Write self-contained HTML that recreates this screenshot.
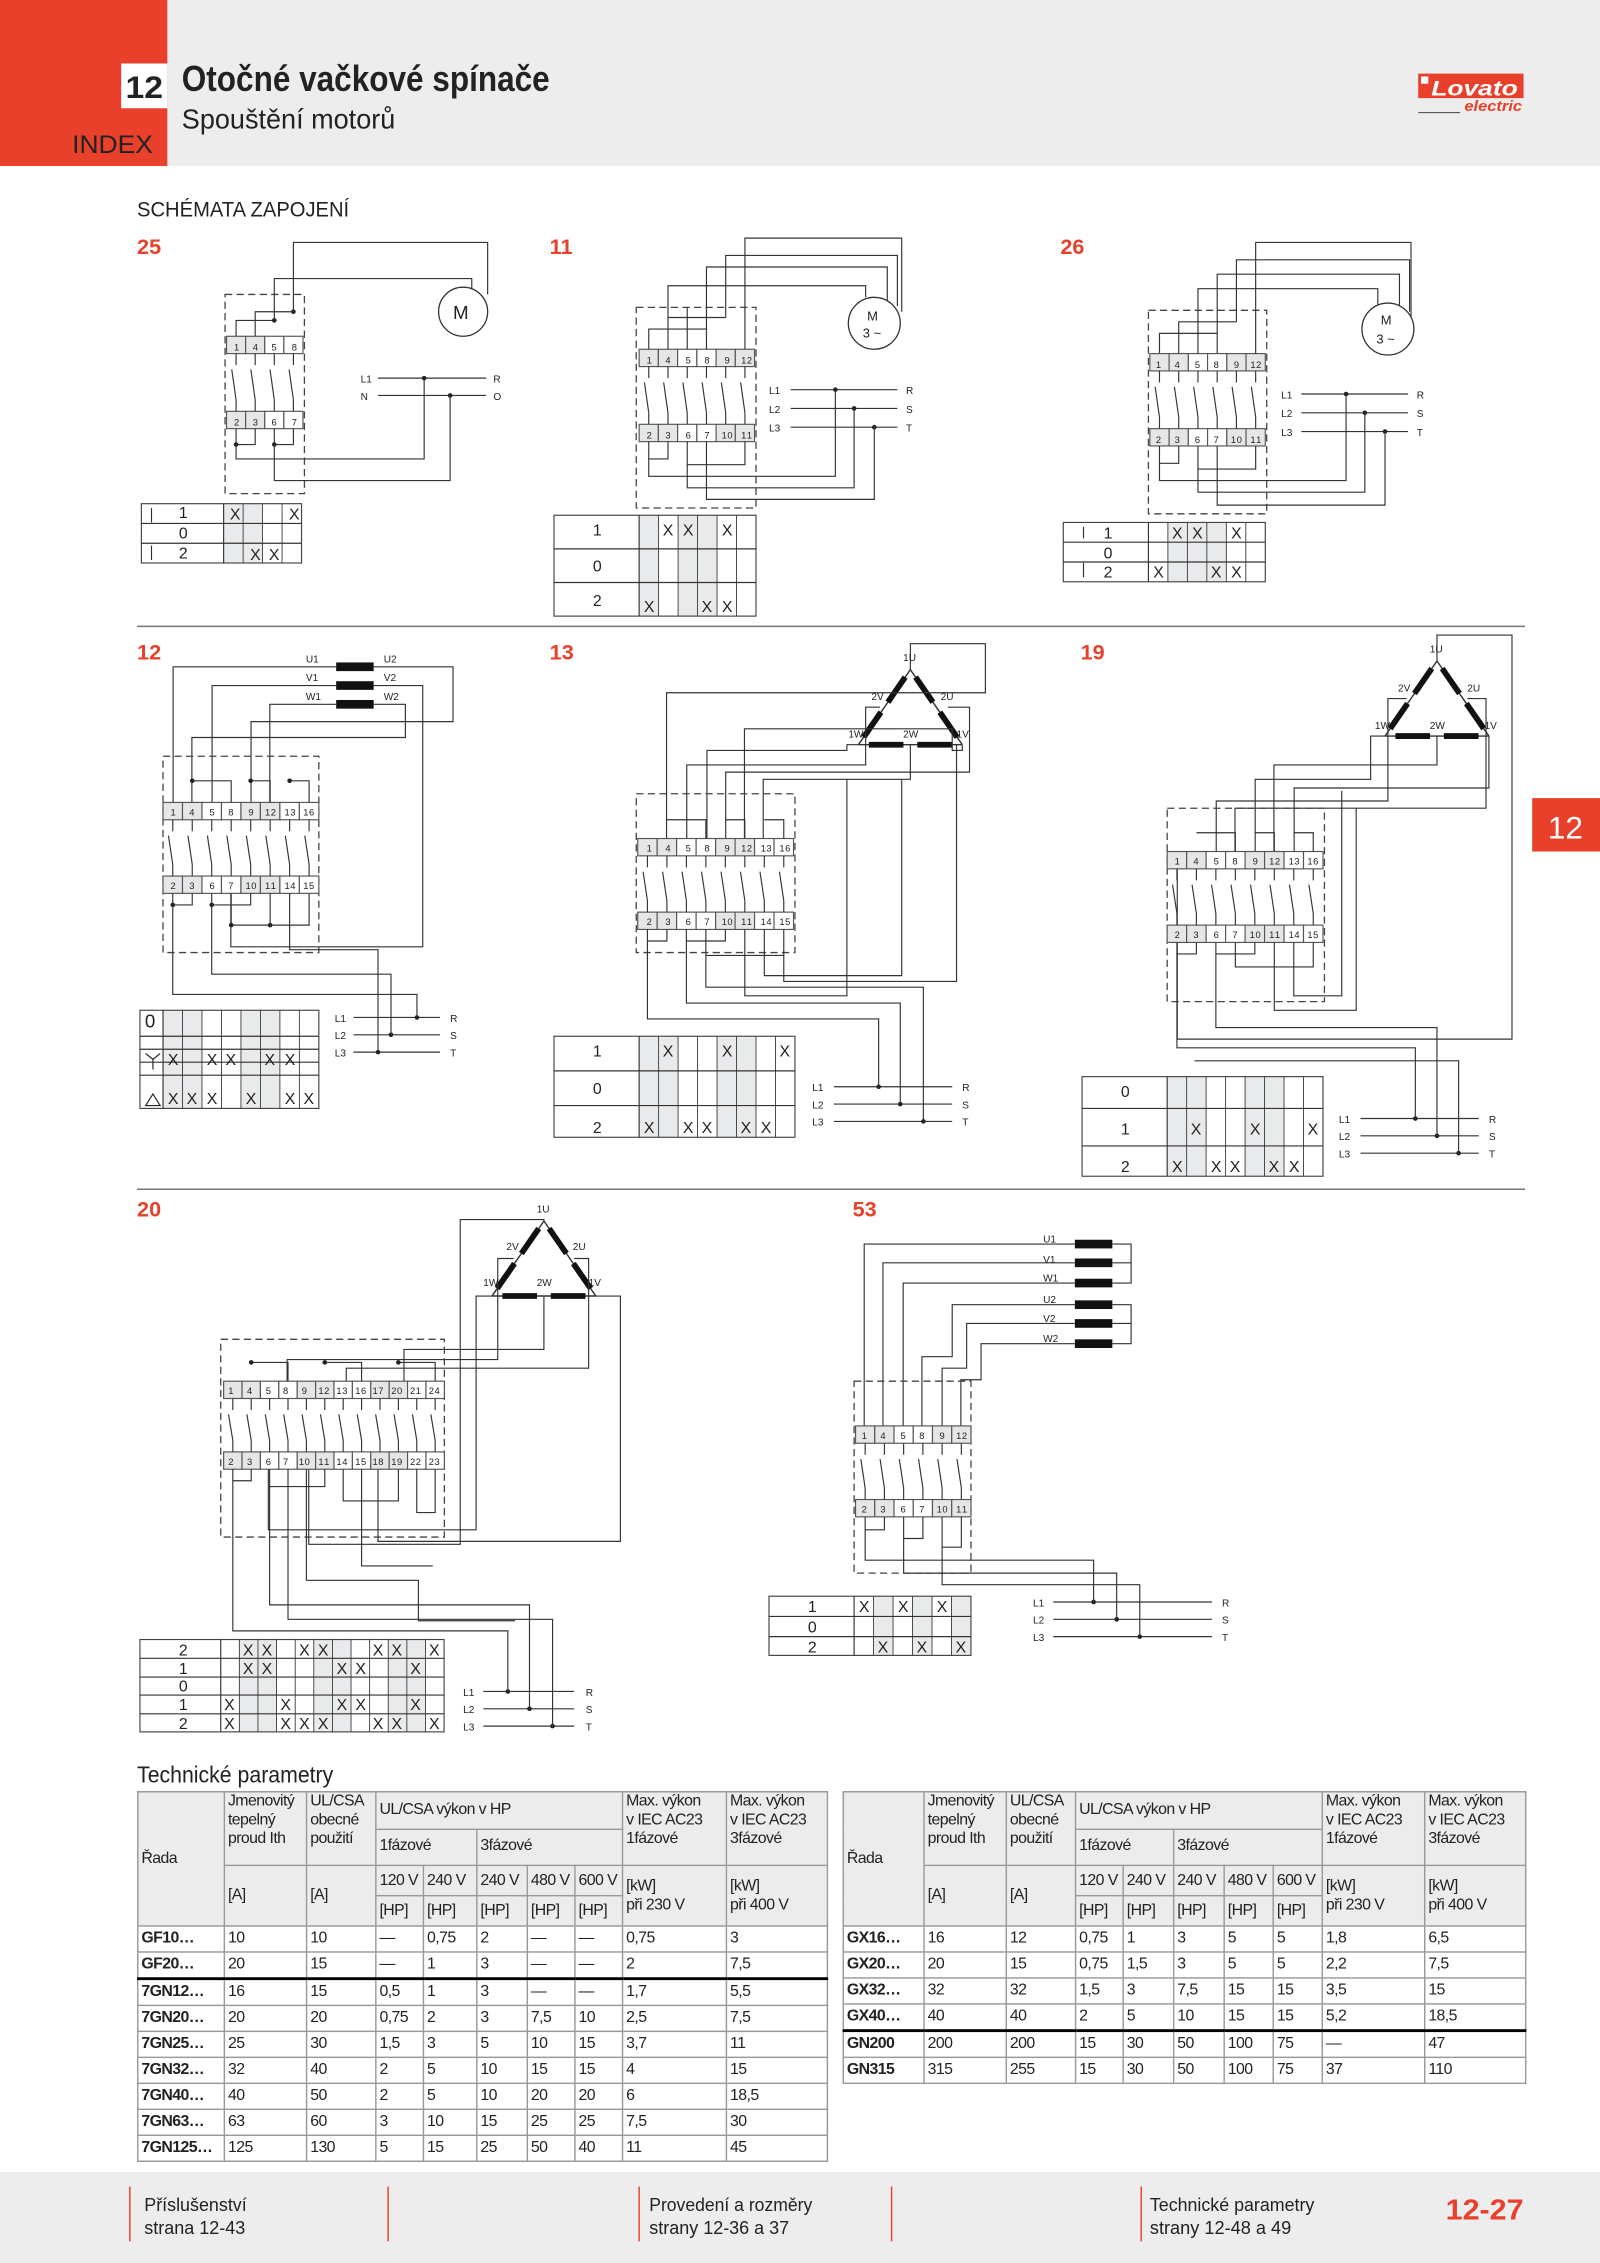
<!DOCTYPE html>
<html><head><meta charset="utf-8">
<style>
html,body{margin:0;padding:0;background:#fff;}
body{width:1600px;height:2263px;overflow:hidden;position:relative;}
#p{position:absolute;left:0;top:0;width:1109px;height:1568px;transform:scale(1.44274,1.44324);transform-origin:0 0;font-family:"Liberation Sans Narrow","Liberation Sans",sans-serif;color:#222;}
svg{position:absolute;left:0;top:0;}
svg text{font-family:"Liberation Sans Narrow","Liberation Sans",sans-serif;fill:#222;}
.t{font-size:6.5px;text-anchor:middle}
.x{font-size:11px;text-anchor:middle}
.r{font-size:10px;text-anchor:start}
.red{fill:#e8402a;font-weight:bold;font-size:15px}
table{position:absolute;border-collapse:collapse;table-layout:fixed;font-size:11px;letter-spacing:-0.4px;font-family:"Liberation Sans Narrow","Liberation Sans",sans-serif;}
td{border:1px solid #999;padding:0 2px;vertical-align:top;overflow:hidden;white-space:nowrap;line-height:13px;}
tr.h td{background:#ececec;}
tr.d td{height:17px;vertical-align:middle;}
td.b{font-weight:bold;}
tr.k td{border-bottom:2px solid #000;}
</style></head><body><div id="p">
<svg width="1109" height="1568" viewBox="0 0 1109 1568">
<rect x="0" y="0" width="1109" height="115" fill="#ededed"/>
<rect x="0" y="0" width="116" height="115" fill="#e8402a"/>
<rect x="84" y="44" width="32" height="31" fill="#fff"/>
<text x="100" y="68" style="font-size:22px;font-weight:bold;text-anchor:middle;font-family:'Liberation Sans'" textLength="26" lengthAdjust="spacingAndGlyphs">12</text>
<text x="50" y="106" style="font-size:17px;font-family:'Liberation Sans'" textLength="56" lengthAdjust="spacingAndGlyphs">INDEX</text>
<text x="126" y="63" style="font-size:25px;font-weight:bold" textLength="255" lengthAdjust="spacingAndGlyphs">Otočné vačkové spínače</text>
<text x="126" y="89" style="font-size:19px" textLength="148" lengthAdjust="spacingAndGlyphs">Spouštění motorů</text>
<rect x="983" y="51" width="73" height="17" fill="#e8402a"/>
<rect x="985" y="53" width="5" height="5" fill="#fff"/>
<text x="992" y="66" style="font-size:15px;font-weight:bold;font-style:italic;fill:#fff;font-family:'Liberation Sans'" textLength="60" lengthAdjust="spacingAndGlyphs">Lovato</text>
<line x1="983" y1="78" x2="1012" y2="78" stroke="#444" stroke-width="0.7"/>
<text x="1055" y="77" style="font-size:10px;font-weight:bold;font-style:italic;fill:#e8402a;text-anchor:end;font-family:'Liberation Sans'" textLength="40" lengthAdjust="spacingAndGlyphs">electric</text>
<text x="95" y="150" style="font-size:15px" textLength="147" lengthAdjust="spacingAndGlyphs">SCHÉMATA ZAPOJENÍ</text>
<text x="95" y="176" class="red">25</text>
<text x="381" y="176" class="red">11</text>
<text x="735" y="176" class="red">26</text>
<text x="95" y="457" class="red">12</text>
<text x="381" y="457" class="red">13</text>
<text x="749" y="457" class="red">19</text>
<text x="95" y="843" class="red">20</text>
<text x="591" y="843" class="red">53</text>
<line x1="95" y1="434" x2="1057" y2="434" stroke="#777" stroke-width="1"/>
<line x1="95" y1="824" x2="1057" y2="824" stroke="#777" stroke-width="1"/>
<rect x="1062" y="553" width="47" height="37" fill="#e8402a"/>
<text x="1085" y="581" style="font-size:22px;fill:#fff;text-anchor:middle;font-family:'Liberation Sans'">12</text>
<text x="95" y="1235" style="font-size:16px" textLength="136" lengthAdjust="spacingAndGlyphs">Technické parametry</text>
<rect x="0" y="1505" width="1109" height="63" fill="#ededed"/>
<g stroke="#e8402a" stroke-width="1"><line x1="90" y1="1515" x2="90" y2="1553"/><line x1="269" y1="1515" x2="269" y2="1553"/><line x1="443" y1="1515" x2="443" y2="1553"/><line x1="618" y1="1515" x2="618" y2="1553"/><line x1="791" y1="1515" x2="791" y2="1553"/></g>
<text x="100" y="1532" style="font-size:13px" textLength="71" lengthAdjust="spacingAndGlyphs">Příslušenství</text><text x="100" y="1548" style="font-size:13px" textLength="70" lengthAdjust="spacingAndGlyphs">strana 12-43</text>
<text x="450" y="1532" style="font-size:13px" textLength="113" lengthAdjust="spacingAndGlyphs">Provedení a rozměry</text><text x="450" y="1548" style="font-size:13px" textLength="97" lengthAdjust="spacingAndGlyphs">strany 12-36 a 37</text>
<text x="797" y="1532" style="font-size:13px" textLength="114" lengthAdjust="spacingAndGlyphs">Technické parametry</text><text x="797" y="1548" style="font-size:13px" textLength="98" lengthAdjust="spacingAndGlyphs">strany 12-48 a 49</text>
<text x="1002" y="1538" style="font-size:20px;font-weight:bold;fill:#e8402a" textLength="54" lengthAdjust="spacingAndGlyphs">12-27</text>

<g id="art"></g>

<g class="r" style="font-size:7px">
<text x="314" y="221" style="font-size:13px">M</text>
<text x="601" y="222" style="font-size:9px">M</text><text x="598" y="234" style="font-size:9px">3 ~</text>
<text x="957" y="225" style="font-size:9px">M</text><text x="954" y="238" style="font-size:9px">3 ~</text>
<text x="250" y="265">L1</text><text x="250" y="277">N</text><text x="342" y="265">R</text><text x="342" y="277">O</text>
<text x="533" y="273">L1</text><text x="533" y="286">L2</text><text x="533" y="299">L3</text><text x="628" y="273">R</text><text x="628" y="286">S</text><text x="628" y="299">T</text>
<text x="888" y="276">L1</text><text x="888" y="289">L2</text><text x="888" y="302">L3</text><text x="982" y="276">R</text><text x="982" y="289">S</text><text x="982" y="302">T</text>
<text x="212" y="459">U1</text><text x="212" y="472">V1</text><text x="212" y="485">W1</text><text x="266" y="459">U2</text><text x="266" y="472">V2</text><text x="266" y="485">W2</text>
<text x="232" y="708">L1</text><text x="232" y="720">L2</text><text x="232" y="732">L3</text><text x="312" y="708">R</text><text x="312" y="720">S</text><text x="312" y="732">T</text>
<text x="563" y="756">L1</text><text x="563" y="768">L2</text><text x="563" y="780">L3</text><text x="667" y="756">R</text><text x="667" y="768">S</text><text x="667" y="780">T</text>
<text x="928" y="778">L1</text><text x="928" y="790">L2</text><text x="928" y="802">L3</text><text x="1032" y="778">R</text><text x="1032" y="790">S</text><text x="1032" y="802">T</text>
<text x="321" y="1175">L1</text><text x="321" y="1187">L2</text><text x="321" y="1199">L3</text><text x="406" y="1175">R</text><text x="406" y="1187">S</text><text x="406" y="1199">T</text>
<text x="716" y="1113">L1</text><text x="716" y="1125">L2</text><text x="716" y="1137">L3</text><text x="847" y="1113">R</text><text x="847" y="1125">S</text><text x="847" y="1137">T</text>
<text x="723" y="861">U1</text><text x="723" y="875">V1</text><text x="723" y="888">W1</text><text x="723" y="903">U2</text><text x="723" y="916">V2</text><text x="723" y="930">W2</text>
<text x="626" y="458">1U</text><text x="604" y="485">2V</text><text x="652" y="485">2U</text><text x="588" y="511">1W</text><text x="626" y="511">2W</text><text x="663" y="511">1V</text>
<text x="991" y="452">1U</text><text x="969" y="479">2V</text><text x="1017" y="479">2U</text><text x="953" y="505">1W</text><text x="991" y="505">2W</text><text x="1029" y="505">1V</text>
<text x="372" y="840">1U</text><text x="351" y="866">2V</text><text x="397" y="866">2U</text><text x="335" y="891">1W</text><text x="372" y="891">2W</text><text x="408" y="891">1V</text>
</g>

<g class="t">
<text x="164 177 190 204" y="243">1458</text><text x="164 177 190 204" y="295">2367</text>
<text x="450 463 477 490 504 515.5 519.5" y="252">1458912</text><text x="450 463 477 490 502 506 515.5 519.5" y="304">23671011</text>
<text x="803 816 830 843 857 868.5 872.5" y="255">1458912</text><text x="803 816 830 843 855 859 868.5 872.5" y="307">23671011</text>
<text x="120 133 147 160 174 185.5 189.5 199 203 212 216" y="565">14589121316</text><text x="120 133 147 160 172 176 185.5 189.5 199 203 212 216" y="616">236710111415</text>
<text x="450 463 477 490 504 515.5 519.5 529 533 542 546" y="590">14589121316</text><text x="450 463 477 490 502 506 515.5 519.5 529 533 542 546" y="641">236710111415</text>
<text x="816 829 843 856 870 881.5 885.5 895 899 908 912" y="599">14589121316</text><text x="816 829 843 856 868 872 881.5 885.5 895 899 908 912" y="650">236710111415</text>
<text x="160 173 186 198 211 222.5 226.5 235 239 248 252 260 264 273 277 286 290 299 303" y="966">1458912131617202124</text>
<text x="160 173 186 198 209 213 222.5 226.5 235 239 248 252 260 264 273 277 286 290 299 303" y="1015">23671011141518192223</text>
<text x="599 612 626 639 653 664.5 668.5" y="997">1458912</text><text x="599 612 626 639 651 655 664.5 668.5" y="1048">23671011</text>
</g>

<g class="x">
<text x="127" y="359">1</text><text x="127" y="373">0</text><text x="127" y="387">2</text>
<text x="163 204" y="360">XX</text><text x="177 190" y="388">XX</text>
<text x="414" y="371">1</text><text x="414" y="396">0</text><text x="414" y="420">2</text>
<text x="463 477 504" y="371">XXX</text><text x="450 490 504" y="424">XXX</text>
<text x="768" y="373">1</text><text x="768" y="387">0</text><text x="768" y="400">2</text>
<text x="816 830 857" y="373">XXX</text><text x="803 843 857" y="400">XXX</text>
<text x="104" y="712" style="font-size:13px">0</text>
<text x="120 147 160 187 201" y="738">XXXXX</text><text x="120 133 147 174 201 214" y="765">XXXXXX</text>
<text x="414" y="732">1</text><text x="414" y="758">0</text><text x="414" y="785">2</text>
<text x="463 504 544" y="732">XXX</text><text x="450 477 490 517 531" y="785">XXXXX</text>
<text x="780" y="760">0</text><text x="780" y="786">1</text><text x="780" y="812">2</text>
<text x="829 870 910" y="786">XXX</text><text x="816 843 856 883 897" y="812">XXXXX</text>
<text x="127" y="1147">2</text><text x="127" y="1160">1</text><text x="127" y="1172">0</text><text x="127" y="1185">1</text><text x="127" y="1198">2</text>
<text x="172 185 211 224 262 275 301" y="1147">XXXXXXX</text><text x="172 185 237 250 288" y="1160">XXXXX</text>
<text x="159 198 237 250 288" y="1185">XXXXX</text><text x="159 198 211 224 262 275 301" y="1198">XXXXXXX</text>
<text x="563" y="1117">1</text><text x="563" y="1131">0</text><text x="563" y="1145">2</text>
<text x="599 626 653" y="1117">XXX</text><text x="612 639 666" y="1145">XXX</text>
</g>
<path d="M101 730 l5 4 l5 -4 M106 734 v7 M101 766 l5 -8 l5 8 z" stroke="#222" fill="none" stroke-width="0.8"/>
</svg>

<table style="left:95px;top:1241px;width:478px">
<colgroup><col style="width:60px"><col style="width:57px"><col style="width:48px"><col style="width:33px"><col style="width:37px"><col style="width:35px"><col style="width:33px"><col style="width:33px"><col style="width:72px"><col style="width:70px"></colgroup>
<tr class="h"><td rowspan="4" style="vertical-align:middle">Řada</td><td rowspan="2" style="height:50px">Jmenovitý<br>tepelný<br>proud Ith</td><td rowspan="2">UL/CSA<br>obecné<br>použití</td><td colspan="5" style="vertical-align:middle;height:24px">UL/CSA výkon v HP</td><td rowspan="2">Max. výkon<br>v IEC AC23<br>1fázové</td><td rowspan="2">Max. výkon<br>v IEC AC23<br>3fázové</td></tr>
<tr class="h"><td colspan="2" style="vertical-align:middle;height:24px">1fázové</td><td colspan="3" style="vertical-align:middle">3fázové</td></tr>
<tr class="h"><td rowspan="2" style="vertical-align:middle">[A]</td><td rowspan="2" style="vertical-align:middle">[A]</td><td style="height:20px;vertical-align:middle">120 V</td><td style="vertical-align:middle">240 V</td><td style="vertical-align:middle">240 V</td><td style="vertical-align:middle">480 V</td><td style="vertical-align:middle">600 V</td><td rowspan="2" style="vertical-align:middle">[kW]<br>při 230 V</td><td rowspan="2" style="vertical-align:middle">[kW]<br>při 400 V</td></tr>
<tr class="h"><td style="height:20px;vertical-align:middle">[HP]</td><td style="vertical-align:middle">[HP]</td><td style="vertical-align:middle">[HP]</td><td style="vertical-align:middle">[HP]</td><td style="vertical-align:middle">[HP]</td></tr>
<tr class="d"><td class="b">GF10…</td><td>10</td><td>10</td><td>—</td><td>0,75</td><td>2</td><td>—</td><td>—</td><td>0,75</td><td>3</td></tr>
<tr class="d k"><td class="b">GF20…</td><td>20</td><td>15</td><td>—</td><td>1</td><td>3</td><td>—</td><td>—</td><td>2</td><td>7,5</td></tr>
<tr class="d"><td class="b">7GN12…</td><td>16</td><td>15</td><td>0,5</td><td>1</td><td>3</td><td>—</td><td>—</td><td>1,7</td><td>5,5</td></tr>
<tr class="d"><td class="b">7GN20…</td><td>20</td><td>20</td><td>0,75</td><td>2</td><td>3</td><td>7,5</td><td>10</td><td>2,5</td><td>7,5</td></tr>
<tr class="d"><td class="b">7GN25…</td><td>25</td><td>30</td><td>1,5</td><td>3</td><td>5</td><td>10</td><td>15</td><td>3,7</td><td>11</td></tr>
<tr class="d"><td class="b">7GN32…</td><td>32</td><td>40</td><td>2</td><td>5</td><td>10</td><td>15</td><td>15</td><td>4</td><td>15</td></tr>
<tr class="d"><td class="b">7GN40…</td><td>40</td><td>50</td><td>2</td><td>5</td><td>10</td><td>20</td><td>20</td><td>6</td><td>18,5</td></tr>
<tr class="d"><td class="b">7GN63…</td><td>63</td><td>60</td><td>3</td><td>10</td><td>15</td><td>25</td><td>25</td><td>7,5</td><td>30</td></tr>
<tr class="d"><td class="b">7GN125…</td><td>125</td><td>130</td><td>5</td><td>15</td><td>25</td><td>50</td><td>40</td><td>11</td><td>45</td></tr>
</table>

<table style="left:584px;top:1241px;width:473px">
<colgroup><col style="width:56px"><col style="width:57px"><col style="width:48px"><col style="width:33px"><col style="width:35px"><col style="width:35px"><col style="width:34px"><col style="width:34px"><col style="width:71px"><col style="width:70px"></colgroup>
<tr class="h"><td rowspan="4" style="vertical-align:middle">Řada</td><td rowspan="2" style="height:50px">Jmenovitý<br>tepelný<br>proud Ith</td><td rowspan="2">UL/CSA<br>obecné<br>použití</td><td colspan="5" style="vertical-align:middle;height:24px">UL/CSA výkon v HP</td><td rowspan="2">Max. výkon<br>v IEC AC23<br>1fázové</td><td rowspan="2">Max. výkon<br>v IEC AC23<br>3fázové</td></tr>
<tr class="h"><td colspan="2" style="vertical-align:middle;height:24px">1fázové</td><td colspan="3" style="vertical-align:middle">3fázové</td></tr>
<tr class="h"><td rowspan="2" style="vertical-align:middle">[A]</td><td rowspan="2" style="vertical-align:middle">[A]</td><td style="height:20px;vertical-align:middle">120 V</td><td style="vertical-align:middle">240 V</td><td style="vertical-align:middle">240 V</td><td style="vertical-align:middle">480 V</td><td style="vertical-align:middle">600 V</td><td rowspan="2" style="vertical-align:middle">[kW]<br>při 230 V</td><td rowspan="2" style="vertical-align:middle">[kW]<br>při 400 V</td></tr>
<tr class="h"><td style="height:20px;vertical-align:middle">[HP]</td><td style="vertical-align:middle">[HP]</td><td style="vertical-align:middle">[HP]</td><td style="vertical-align:middle">[HP]</td><td style="vertical-align:middle">[HP]</td></tr>
<tr class="d"><td class="b">GX16…</td><td>16</td><td>12</td><td>0,75</td><td>1</td><td>3</td><td>5</td><td>5</td><td>1,8</td><td>6,5</td></tr>
<tr class="d"><td class="b">GX20…</td><td>20</td><td>15</td><td>0,75</td><td>1,5</td><td>3</td><td>5</td><td>5</td><td>2,2</td><td>7,5</td></tr>
<tr class="d"><td class="b">GX32…</td><td>32</td><td>32</td><td>1,5</td><td>3</td><td>7,5</td><td>15</td><td>15</td><td>3,5</td><td>15</td></tr>
<tr class="d k"><td class="b">GX40…</td><td>40</td><td>40</td><td>2</td><td>5</td><td>10</td><td>15</td><td>15</td><td>5,2</td><td>18,5</td></tr>
<tr class="d"><td class="b">GN200</td><td>200</td><td>200</td><td>15</td><td>30</td><td>50</td><td>100</td><td>75</td><td>—</td><td>47</td></tr>
<tr class="d"><td class="b">GN315</td><td>315</td><td>255</td><td>15</td><td>30</td><td>50</td><td>100</td><td>75</td><td>37</td><td>110</td></tr>
</table>
</div>
<script>
(function(){
var g=document.getElementById('art'),out=[];
function P(pts,o){o=o||{};out.push('<polyline points="'+pts.join(' ')+'" fill="none" stroke="'+(o.c||'#333')+'" stroke-width="'+(o.w||0.8)+'"'+(o.d?' stroke-dasharray="'+o.d+'"':'')+'/>');}
function Rc(x,y,w,h,f,s,d,sw){out.push('<rect x="'+x+'" y="'+y+'" width="'+w+'" height="'+h+'" fill="'+(f||'none')+'" stroke="'+(s||'none')+'" stroke-width="'+(sw||0.8)+'"'+(d?' stroke-dasharray="'+d+'"':'')+'/>');}
function D(x,y){out.push('<circle cx="'+x+'" cy="'+y+'" r="1.6" fill="#222"/>');}
function C(x,y,r){out.push('<circle cx="'+x+'" cy="'+y+'" r="'+r+'" fill="#fff" stroke="#333" stroke-width="0.9"/>');}
function box(x0,y0,x1,y1){Rc(x0,y0,x1-x0,y1-y0,'none','#444','5,3',0.9);}
function strip(x0,x1,yt,yb,n){var w=(x1-x0)/n;
 for(var i=0;i<n;i++){var f=(i%4<2)?'#e4e6e8':'#fff';Rc(x0+i*w,yt,w,12,f,'#555');Rc(x0+i*w,yb,w,12,f,'#555');
  var cx=x0+(i+0.5)*w;P([cx,yt+12,cx,yt+20]);P([cx-3,yt+23,cx,yb-8]);P([cx,yb-8,cx,yb]);}
 return function(i){return x0+(i+0.5)*w;};}
function grid(x0,y0,lx,cw,n,rows,gray){var y=y0,tot=rows.reduce(function(a,b){return a+b},0);
 for(var j=0;j<n;j++){if(gray.indexOf(j)>=0)Rc(lx+j*cw,y0,cw,tot,'#e8eaec');}
 Rc(x0,y0,lx+n*cw-x0,tot,'none','#444');
 rows.forEach(function(h,k){if(k>0)P([x0,y,lx+n*cw,y]);y+=h;});
 P([lx,y0,lx,y0+tot]);for(var j=1;j<n;j++)P([lx+j*cw,y0,lx+j*cw,y0+tot],{w:0.6});}
function lines(x0,x1,ys){ys.forEach(function(y){P([x0,y,x1,y]);});}
function feed(xd,yd,yb,xt,ytop){D(xd,yd);P([xd,yd,xd,yb,xt,yb,xt,ytop]);}
function tri(cx,ty){var a=[cx,ty],b=[cx-36,ty+52],c=[cx+36,ty+52];
 function seg(p,q){P([p[0],p[1],q[0],q[1]],{w:1});var m=[(p[0]+q[0])/2,(p[1]+q[1])/2],dx=(q[0]-p[0])/6,dy=(q[1]-p[1])/6;
  P([p[0]+dx*0.6,p[1]+dy*0.6,m[0]-dx*0.4,m[1]-dy*0.4],{w:4,c:'#111'});P([m[0]+dx*0.4,m[1]+dy*0.4,q[0]-dx*0.6,q[1]-dy*0.6],{w:4,c:'#111'});}
 seg(a,b);seg(a,c);seg(b,c);}
function coil(x,y){Rc(x,y-3,26,6,'#111','none');}

/* 25 */
box(156,204,211,342);var s=strip(157,210,233,285,4);
P([s(0),233,s(0),222,s(2),222]);P([s(1),233,s(1),216,s(3),216]);D(s(2),222);D(s(3),216);
P([s(2),222,s(2),193,327,193,327,203]);P([s(3),216,s(3),168,338,168,338,204]);C(321,216,17);
P([s(0),297,s(0),308,s(1),308,s(1),297]);P([s(2),297,s(2),308,s(3),308,s(3),297]);D(s(0),308);D(s(2),308);
lines(262,337,[262,274]);feed(294,262,318,s(0),308);feed(312,274,333,s(2),308);
grid(98,349,155,13.5,4,[13.7,13.7,13.7],[0,1]);P([105,352,105,362]);P([105,378,105,388]);
/* 11 */
box(441,213,524,352);s=strip(443,523,242,294,6);
P([s(0),242,s(0),228,s(3),228,s(3),242]);P([s(1),242,s(1),220,s(4),220]);P([s(2),242,s(2),213]);
P([s(3),228,s(3),185,615,185,615,208]);P([s(4),220,s(4),177,622,177,622,212]);P([s(5),242,s(5),165,625,165,625,216]);P([s(1),220,s(1),198,600,198,600,206]);
C(606,224,18);
lines(548,622,[270,283,296]);
P([s(0),306,s(0),318,s(1),318,s(1),306]);P([s(2),306,s(2),322,s(5),322,s(5),306]);
feed(579,270,330,s(0),318);feed(592,283,338,s(2),322);feed(606,296,346,s(3),306);
grid(384,357,443,13.5,6,[23.3,23.3,23.3],[0,2,3]);
/* 26 */
box(796,215,878,356);s=strip(797,877,245,297,6);
P([s(0),245,s(0),231,s(3),231,s(3),245]);P([s(1),245,s(1),223,s(4),223]);
P([s(3),231,s(3),190,970,190,970,212]);P([s(4),223,s(4),180,977,180,977,216]);P([s(5),245,s(5),168,978,168,978,220]);P([s(2),245,s(2),200,955,200,955,212]);
C(962,228,18);
lines(902,976,[273,286,299]);
P([s(0),309,s(0),321,s(1),321,s(1),309]);P([s(2),309,s(2),325,s(5),325,s(5),309]);
feed(933,273,333,s(0),321);feed(946,286,341,s(2),325);feed(960,299,350,s(3),309);
grid(737,362,796,13.5,6,[13.7,13.7,13.7],[1,2,3]);P([751,365,751,373]);P([751,390,751,400]);
/* 12 */
coil(233,462);coil(233,475);coil(233,488);
P([233,462,120,462,120,556]);P([233,475,147,475,147,556]);P([233,488,187,488,187,556]);
P([259,462,314,462,314,500,174,500,174,556]);P([259,475,293,475,293,656,160,656,160,619]);P([259,488,281,488,281,511,133,511,133,556]);
box(113,524,221,660);s=strip(113,221,556,607,8);
P([s(1),541,s(3),541,s(3),556]);D(s(1),541);P([s(4),541,s(5),541,s(5),556]);D(s(4),541);P([s(6),541,s(7),541,s(7),556]);D(s(6),541);
P([s(0),619,s(0),627,s(1),627,s(1),619]);D(s(0),627);P([s(2),619,s(2),627,s(4),627,s(4),619]);D(s(2),627);
P([s(3),619,s(3),641,s(7),641,s(7),619]);D(s(3),641);D(s(5),641);P([s(5),619,s(5),641]);
lines(245,305,[705,717,729]);
feed(289,705,689,s(0),627);feed(271,717,675,s(2),627);feed(262,729,658,s(6),619);
grid(97,700,113,13.5,8,[18,9,9,9,23],[0,1,4,5]);
/* 13 */
tri(631,464);
P([631,464,631,446,683,446,683,480,462,480,462,581]);P([595,516,587,516,587,520,490,520,490,581]);P([667,516,667,520,660,520,660,505,516,505,516,581]);
P([610,490,600,490,600,530,476,530,476,581]);P([657,490,672,490,672,535,503,535,503,581]);P([631,516,631,540,529,540,529,581]);
box(441,550,551,660);s=strip(442,550,581,632,8);
P([s(1),568,s(3),568,s(3),581]);P([s(4),568,s(5),568,s(5),581]);P([s(6),568,s(7),568,s(7),581]);
P([s(0),644,s(0),652,s(1),652,s(1),644]);P([s(2),644,s(2),652,s(4),652,s(4),644]);P([s(3),644,s(3),662,s(7),662,s(7),644]);
P([s(5),644,s(5),690,587,690,587,540]);P([s(6),644,s(6),676,625,676,625,540]);
lines(578,660,[753,765,777]);
feed(609,753,706,s(0),652);feed(624,765,695,s(2),652);feed(640,777,684,s(3),662);
P([s(7),662,s(7),680,663,680,663,516]);
grid(384,718,443,13.5,8,[24,24,22],[0,1,4,5]);
/* 19 */
tri(996,458);
P([996,458,996,440,1048,440,1048,720,816,720,816,590]);P([960,510,950,510,950,540,870,540,870,590]);P([1032,510,1032,546,897,546,897,590]);
P([975,484,962,484,962,555,843,555,843,590]);P([1017,484,1030,484,1030,560,856,560,856,590]);P([996,510,996,530,883,530,883,590]);
box(809,560,918,694);s=strip(809,917,590,641,8);
P([s(1),577,s(3),577,s(3),590]);P([s(4),577,s(5),577,s(5),590]);P([s(6),577,s(7),577,s(7),590]);
P([s(0),653,s(0),661,s(1),661,s(1),653]);P([s(2),653,s(2),661,s(4),661,s(4),653]);P([s(3),653,s(3),670,s(7),670,s(7),653]);
P([s(5),653,s(5),700,940,700,940,560]);P([s(6),653,s(6),690,930,690,930,548]);
lines(943,1025,[775,787,799]);
feed(981,775,726,s(0),661);feed(996,787,712,s(2),661);feed(1011,799,735,828,735,828,661);
grid(750,746,809,13.5,8,[22,26,21],[0,1,4,5]);
/* 20 */
tri(377,846);
P([377,846,377,845,319,845,319,1070,214,1070,214,1018]);P([341,898,330,898,330,1060,186,1060,186,1018]);
P([413,898,430,898,430,1068,262,1068,262,1018]);
P([356,872,345,872,345,942,199,942,199,957]);P([398,872,408,872,408,948,240,948,240,957]);P([377,898,377,935,280,935,280,957]);
box(153,928,308,1065);s=strip(155,308,957,1006,12);
for(var k=0;k<12;k+=4){P([s(k+1),944,s(k+3),944,s(k+3),957]);D(s(k+1),944);}
P([s(0),1018,s(0),1026,s(1),1026,s(1),1018]);P([s(2),1018,s(2),1030,s(5),1030,s(5),1018]);P([s(6),1018,s(6),1040,s(9),1040,s(9),1018]);P([s(10),1018,s(10),1048,s(11),1048,s(11),1018]);
lines(335,398,[1172,1184,1196]);
feed(352,1172,1130,s(0),1026);feed(367,1184,1112,s(2),1030);feed(383,1196,1122,s(3),1018);
P([s(4),1018,s(4),1095,290,1095,290,1123,357,1123]);P([s(7),1018,s(7),1085,300,1085]);
grid(97,1136,153,12.9,12,[13,13,12.5,13,12.5],[1,2,5,6,9,10]);
/* 53 */
[862,875,889,904,917,931].forEach(function(y){coil(745,y);});
P([771,862,784,862,784,889,771,889]);P([771,875,784,875]);
P([771,904,784,904,784,931,771,931]);P([771,917,784,917]);
P([745,862,599,862,599,988]);P([745,875,612,875,612,988]);P([745,889,626,889,626,988]);
P([745,904,660,904,660,940,639,940,639,988]);P([745,917,670,917,670,948,653,948,653,988]);P([745,931,680,931,680,956,666,956,666,988]);
box(592,957,673,1090);s=strip(593,673,988,1039,6);
P([s(0),1051,s(0),1060,s(1),1060,s(1),1051]);P([s(2),1051,s(2),1066,s(3),1066,s(3),1051]);P([s(4),1051,s(4),1072,s(5),1072,s(5),1051]);
lines(730,840,[1110,1122,1134]);
feed(758,1110,1081,s(0),1060);feed(774,1122,1090,s(2),1066);feed(790,1134,1098,s(4),1072);
grid(533,1106,592,13.5,6,[14,14,13],[1,3,5]);
g.innerHTML=out.join('');
})();
</script>
</body></html>
